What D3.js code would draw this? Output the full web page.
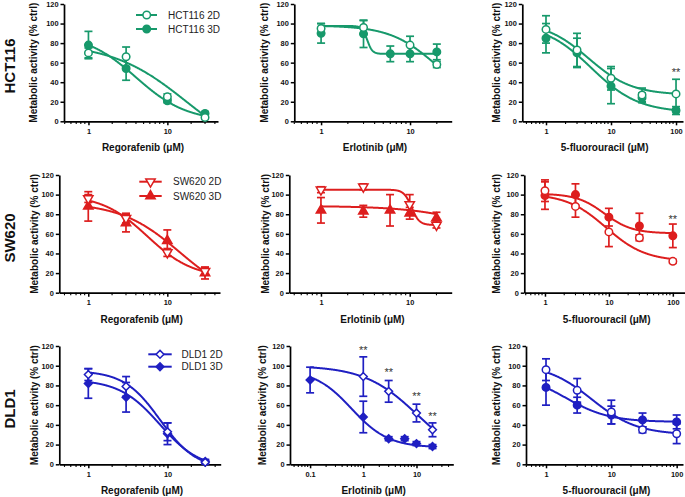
<!DOCTYPE html>
<html><head><meta charset="utf-8">
<script src="https://cdn.jsdelivr.net/npm/d3@7/dist/d3.min.js"></script>
<style>
body{margin:0;background:#fff}
svg{display:block}
text{font-family:"Liberation Sans",Arial,Helvetica,sans-serif}
</style>
</head><body>
<svg id="chart" width="685" height="497"></svg>
<script>
// ---------------- DATA ----------------
const cellLines = ["HCT116", "SW620", "DLD1"];
const drugNames = ["Regorafenib (\u03bcM)", "Erlotinib (\u03bcM)", "5-fluorouracil (\u03bcM)"];
const yTicks = [0, 20, 40, 60, 80, 100, 120];
const xTickLabels = {0.1: "0.1", 1: "1", 10: "10", 100: "100"};

// concentrations (µM)
const regoConc = [1, 3, 10, 30];
const erloConc2D = [1, 3, 10, 20];
const erloConc3D = [1, 3, 6, 10, 20];
const erloConcDLD3D = [0.1, 1, 3, 6, 10, 20];
const fuConc = [1, 3, 10, 30, 100];

// HCT116
const hctRego2D = [70, 66, 25, 4],        hctRego2DErr = [5, 10, 3, 2];
const hctRego3D = [78, 54, 21, 8],        hctRego3DErr = [14, 12, 2, 2];
const hctErlo2D = [95, 96, 78, 58],       hctErlo2DErr = [5, 7, 9, 3];
const hctErlo3D = [90, 89.5, 69, 69, 71], hctErlo3DErr = [10, 14, 8, 8, 8];
const hctFu2D = [94, 73, 44, 27, 28],     hctFu2DErr = [14, 17, 12, 7, 15];
const hctFu3D = [85, 70, 36, 24, 11],     hctFu3DErr = [15, 15, 18, 5, 4];
// SW620
const swRego2D = [96, 76, 41, 22],        swRego2DErr = [4, 5, 4, 4];
const swRego3D = [88, 71, 53, 20],        swRego3DErr = [15, 9, 11, 6];
const swErlo2D = [105, 108, 90, 69],      swErlo2DErr = [3, 3, 10, 3];
const swErlo3D = [84, 83, 84, 81, 76],    swErlo3DErr = [13, 6, 16, 6, 6];
const swFu2D = [104, 88, 62, 56, 32],     swFu2DErr = [11, 11, 15, 3, 2];
const swFu3D = [99, 100, 77, 68, 58],     swFu3DErr = [14, 11, 9, 13, 12];
// DLD1
const dldRego2D = [91, 79, 33, 2],        dldRego2DErr = [6, 10, 9, 2];
const dldRego3D = [82, 68, 31, 3],        dldRego3DErr = [15, 15, 11, 2];
const dldErlo2D = [89, 74, 52, 35],       dldErlo2DErr = [20, 11, 9, 7];
const dldErlo3D = [85.5, 48, 26, 26, 21, 18], dldErlo3DErr = [13, 16, 2, 2, 2, 2];
const dldFu2D = [96, 75, 53, 35, 31],     dldFu2DErr = [11, 12, 12, 3, 10];
const dldFu3D = [78, 60, 50, 45, 43],     dldFu3DErr = [18, 8, 9, 7, 7];

// fitted 4-parameter logistic curves: [top, bottom, IC50, hill]
const hctRego2DFit = [80, -40, 17.5, 0.92], hctRego3DFit = [90, 0, 4, 1.35];
const hctErlo2DFit = [98, 20, 19, 1.7],     hctErlo3DFit = [97.5, 69, 3.3, 15];
const hctFu2DFit = [102, 27, 4.5, 1.3],     hctFu3DFit = [100, 9, 5, 1.2];
const swRego2DFit = [100, 15, 5.6, 1.5],    swRego3DFit = [92, -10, 14.5, 1.15];
const swErlo2DFit = [105, 69, 10.5, 10],    swErlo3DFit = [88.5, 0, 190, 1];
const swFu2DFit = [101, 32, 9, 1.4],        swFu3DFit = [101, 60.5, 8.5, 2];
const dldRego2DFit = [95, -5, 8.07, 1.9],   dldRego3DFit = [86, -5, 8, 1.7];
const dldErlo2DFit = [100, 0, 10.5, 0.87],  dldErlo3DFit = [96, 17, 0.6, 1.25];
const dldFu2DFit = [102, 30, 5, 1.25],      dldFu3DFit = [92, 43, 2, 1.3];

// significance marks: [conc, y-position value]
const hctFuStars = [[100, 52]];
const swFuStars = [[100, 77]];
const dldErloStars = [[1, 117], [3, 95], [10, 71], [20, 51]];

// ---------------- STYLE / LAYOUT ----------------
const colors = ["#17996b", "#dd1e1e", "#1f1fc2"];
const shapes2D = ["circleOpen", "triDownOpen", "diamondOpen"];
const shapes3D = ["circleFilled", "triUpFilled", "diamondFilled"];

const rowsY = [[4, 121.3], [175, 292.7], [346, 464.3]];
const colBoxes = [
  [ {x0:64, x1:218, dom:[0.49, 43.8], ylx:33.5}, {x0:294.3, x1:451.7, dom:[0.5, 29.4], ylx:264}, {x0:522.3, x1:683, dom:[0.432, 128], ylx:496} ],
  [ {x0:59.3, x1:220, dom:[0.43, 46.4], ylx:34}, {x0:289.3, x1:451.7, dom:[0.44, 29.7], ylx:265}, {x0:524.3, x1:685, dom:[0.475, 155], ylx:496} ],
  [ {x0:59.3, x1:220.7, dom:[0.43, 47], ylx:34}, {x0:290, x1:453.3, dom:[0.0419, 49.2], ylx:262}, {x0:526, x1:683, dom:[0.494, 125], ylx:496} ]
];
const rowLabelY = [66, 238, 409];
const legendPos = [
  {lx0:136, lx1:157, mx:146.7, tx:168, y:[15, 29]},
  {lx0:139.3, lx1:161.7, mx:150.5, tx:173, y:[181.7, 196]},
  {lx0:148.3, lx1:171.7, mx:160, tx:181.5, y:[354.3, 366.7]}
];

const S = (conc, mean, err, fit) => ({conc, mean, err, fit});
const grid = [
  [
    {s2:S(regoConc, hctRego2D, hctRego2DErr, hctRego2DFit), s3:S(regoConc, hctRego3D, hctRego3DErr, hctRego3DFit), range:[1,30], stars:[]},
    {s2:S(erloConc2D, hctErlo2D, hctErlo2DErr, hctErlo2DFit), s3:S(erloConc3D, hctErlo3D, hctErlo3DErr, hctErlo3DFit), range:[1,20], stars:[]},
    {s2:S(fuConc, hctFu2D, hctFu2DErr, hctFu2DFit), s3:S(fuConc, hctFu3D, hctFu3DErr, hctFu3DFit), range:[1,100], stars:hctFuStars, circles:true}
  ],
  [
    {s2:S(regoConc, swRego2D, swRego2DErr, swRego2DFit), s3:S(regoConc, swRego3D, swRego3DErr, swRego3DFit), range:[1,30], stars:[]},
    {s2:S(erloConc2D, swErlo2D, swErlo2DErr, swErlo2DFit), s3:S(erloConc3D, swErlo3D, swErlo3DErr, swErlo3DFit), range:[1,20], stars:[]},
    {s2:S(fuConc, swFu2D, swFu2DErr, swFu2DFit), s3:S(fuConc, swFu3D, swFu3DErr, swFu3DFit), range:[1,100], stars:swFuStars, circles:true}
  ],
  [
    {s2:S(regoConc, dldRego2D, dldRego2DErr, dldRego2DFit), s3:S(regoConc, dldRego3D, dldRego3DErr, dldRego3DFit), range:[1,30], stars:[]},
    {s2:S(erloConc2D, dldErlo2D, dldErlo2DErr, dldErlo2DFit), s3:S(erloConcDLD3D, dldErlo3D, dldErlo3DErr, dldErlo3DFit), range:[0.1,20], stars:dldErloStars},
    {s2:S(fuConc, dldFu2D, dldFu2DErr, dldFu2DFit), s3:S(fuConc, dldFu3D, dldFu3DErr, dldFu3DFit), range:[1,100], stars:[], circles:true}
  ]
];

// ---------------- DRAWING ----------------
const svg = d3.select("#chart");
const logistic = (p, x) => p[1] + (p[0] - p[1]) / (1 + Math.pow(x / p[2], p[3]));

function markerPath(shape) {
  if (shape.startsWith("circle")) return d3.symbol(d3.symbolCircle, 44)();
  if (shape.startsWith("tri")) return d3.symbol(d3.symbolTriangle, 38)();
  const r = 3.9;
  return `M0,${-r}L${r},0L0,${r}L${-r},0Z`;
}
function drawMarker(g, shape, x, y, color) {
  const open = shape.endsWith("Open");
  g.append("path")
    .attr("d", markerPath(shape))
    .attr("transform", `translate(${x},${y})${shape.startsWith("triDown") ? " rotate(180)" : ""}`)
    .attr("fill", open ? "#fff" : color)
    .attr("stroke", color)
    .attr("stroke-width", 1.5);
}

for (let r = 0; r < 3; r++) {
  const color = colors[r];
  svg.append("text")
    .attr("transform", `translate(15,${rowLabelY[r]}) rotate(-90)`)
    .attr("text-anchor", "middle")
    .attr("font-size", 15).attr("font-weight", "bold").attr("fill", "#111")
    .text(cellLines[r]);

  for (let c = 0; c < 3; c++) {
    const box = colBoxes[r][c];
    const cell = grid[r][c];
    const [yB, yT] = [rowsY[r][1], rowsY[r][0]];
    const x = d3.scaleLog().domain(box.dom).range([box.x0, box.x1]);
    const y = d3.scaleLinear().domain([0, 120]).range([yB, yT]);
    const g = svg.append("g");

    const yAx = d3.axisLeft(y).tickValues(yTicks).tickSize(3.5).tickPadding(2).tickSizeOuter(0);
    const ya = g.append("g").attr("transform", `translate(${box.x0},0)`).call(yAx);
    ya.select(".domain").attr("stroke", "#000").attr("stroke-width", 1.7);
    ya.selectAll(".tick line").attr("stroke", "#000").attr("stroke-width", 1.5);
    ya.selectAll(".tick text").attr("font-size", 7.4).attr("font-weight", "bold").attr("fill", "#111")
      .attr("font-family", '"Liberation Sans",Arial,sans-serif');

    const lo = box.dom[0], hi = box.dom[1];
    const majors = [], minors = [];
    for (let e = -2; e <= 3; e++) {
      for (let k = 1; k <= 9; k++) {
        const v = k * Math.pow(10, e);
        if (v < lo || v > hi) continue;
        if (k === 1) majors.push(v); else minors.push(v);
      }
    }
    const xa = g.append("g").attr("transform", `translate(0,${yB})`)
      .call(d3.axisBottom(x).tickValues(majors).tickFormat(v => xTickLabels[v]).tickSize(4).tickPadding(3).tickSizeOuter(0));
    xa.select(".domain").attr("stroke", "#000").attr("stroke-width", 1.7);
    xa.selectAll(".tick line").attr("stroke", "#000").attr("stroke-width", 1.5);
    xa.selectAll(".tick text").attr("font-size", 7.4).attr("font-weight", "bold").attr("fill", "#111")
      .attr("font-family", '"Liberation Sans",Arial,sans-serif');
    g.append("g").selectAll("line").data(minors).join("line")
      .attr("x1", d => x(d)).attr("x2", d => x(d))
      .attr("y1", yB).attr("y2", yB + 2.6)
      .attr("stroke", "#000").attr("stroke-width", 1.1);

    g.append("text")
      .attr("x", (box.x0 + box.x1) / 2 + 2).attr("y", yB + 30)
      .attr("text-anchor", "middle").attr("font-size", 10).attr("font-weight", "bold").attr("fill", "#111")
      .text(drugNames[c]);
    g.append("text")
      .attr("transform", `translate(${box.ylx + 3.5},${(yB + yT) / 2}) rotate(-90)`)
      .attr("text-anchor", "middle").attr("font-size", 10).attr("font-weight", "bold").attr("fill", "#111")
      .text("Metabolic activity (% ctrl)");

    const sh2 = cell.circles ? "circleOpen" : shapes2D[r];
    const sh3 = cell.circles ? "circleFilled" : shapes3D[r];
    const series = [[cell.s3, sh3], [cell.s2, sh2]];

    series.forEach(([s]) => {
      s.conc.forEach((cv, i) => {
        const xp = x(cv), y1 = y(s.mean[i] - s.err[i]), y2 = y(s.mean[i] + s.err[i]);
        g.append("line").attr("x1", xp).attr("x2", xp).attr("y1", y1).attr("y2", y2)
          .attr("stroke", color).attr("stroke-width", 1.7);
        [y1, y2].forEach(yy => g.append("line").attr("x1", xp - 4).attr("x2", xp + 4)
          .attr("y1", yy).attr("y2", yy).attr("stroke", color).attr("stroke-width", 1.7));
      });
    });

    const line = d3.line().x(d => x(d[0])).y(d => y(d[1]));
    series.forEach(([s]) => {
      const [a, b] = cell.range.map(Math.log10);
      const pts = d3.range(0, 301).map(i => {
        const xv = Math.pow(10, a + (b - a) * i / 300);
        return [xv, logistic(s.fit, xv)];
      });
      g.append("path").attr("d", line(pts)).attr("fill", "none")
        .attr("stroke", color).attr("stroke-width", 2);
    });

    series.forEach(([s, shape]) => {
      s.conc.forEach((cv, i) => drawMarker(g, shape, x(cv), y(s.mean[i]), color));
    });

    cell.stars.forEach(([cv, v]) => {
      g.append("text").attr("x", x(cv)).attr("y", y(v) + 5.5)
        .attr("text-anchor", "middle").attr("font-size", 11).attr("fill", "#333").text("**");
    });

    if (c === 0) {
      const L = legendPos[r];
      [[shapes2D[r], cellLines[r] + " 2D"], [shapes3D[r], cellLines[r] + " 3D"]].forEach(([shape, label], k) => {
        const yy = L.y[k];
        g.append("line").attr("x1", L.lx0).attr("x2", L.lx1).attr("y1", yy).attr("y2", yy)
          .attr("stroke", color).attr("stroke-width", 2);
        drawMarker(g, shape, L.mx, yy, color);
        g.append("text").attr("x", L.tx).attr("y", yy + 3.6)
          .attr("font-size", 10).attr("fill", "#222").text(label);
      });
    }
  }
}
</script>
</body></html>
